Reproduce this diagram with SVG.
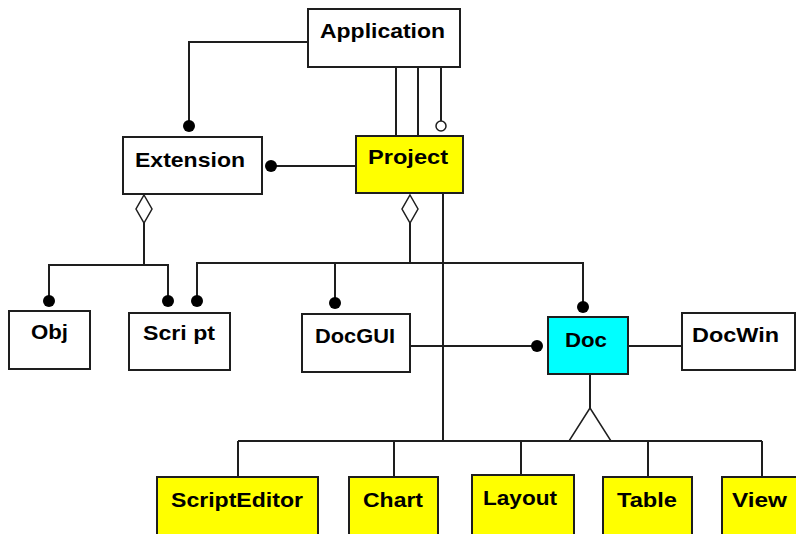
<svg xmlns="http://www.w3.org/2000/svg" width="796" height="534" viewBox="0 0 796 534">
  <style>
    .box { stroke: #1e1e1e; stroke-width: 2; }
    .plain { fill: #ffffff; }
    .yellow { fill: #ffff00; }
    .cyan { fill: #00ffff; }
    .lbl { font-family: "Liberation Sans", Arial, sans-serif; font-weight: bold; font-size: 21px; fill: #000000; }
    .wire { fill: none; stroke: #1e1e1e; stroke-width: 2; }
    .dot { fill: #000000; }
    .hollow { fill: #ffffff; stroke: #1e1e1e; stroke-width: 1.5; }
  </style>

  <!-- connectors -->
  <g id="connectors">
    <!-- Application to Extension -->
    <path class="wire" d="M308,42 H189 V122"/>
    <circle class="dot" cx="189" cy="126" r="6"/>
    <!-- Application to Project -->
    <path class="wire" d="M396,67 V136 M418,67 V136 M441,67 V121"/>
    <circle class="hollow" cx="441" cy="126" r="5"/>
    <!-- Project to Extension -->
    <path class="wire" d="M356,166 H276"/>
    <circle class="dot" cx="271" cy="166" r="6"/>
    <!-- Extension aggregation -->
    <polygon class="hollow" points="144,195 152,209 144,223 136,209"/>
    <path class="wire" d="M144,223 V265 M49,297 V265 H168 V297"/>
    <circle class="dot" cx="49" cy="301" r="6"/>
    <circle class="dot" cx="168" cy="301" r="6"/>
    <!-- Project aggregation -->
    <polygon class="hollow" points="410,195 418,209 410,223 402,209"/>
    <path class="wire" d="M410,223 V263 M197,297 V263 H583 V303 M335,263 V299"/>
    <circle class="dot" cx="197" cy="301" r="6"/>
    <circle class="dot" cx="335" cy="303" r="6"/>
    <circle class="dot" cx="583" cy="307" r="6"/>
    <!-- Project trunk down to the editors -->
    <path class="wire" d="M443,193 V441"/>
    <!-- DocGUI to Doc -->
    <path class="wire" d="M410,346 H532"/>
    <circle class="dot" cx="537" cy="346" r="6"/>
    <!-- Doc to DocWin -->
    <path class="wire" d="M628,346 H682"/>
    <!-- Doc inheritance -->
    <path class="wire" d="M590,374 V408"/>
    <polygon class="hollow" points="590,408 611,441 569,441"/>
    <!-- bottom bus -->
    <path class="wire" d="M238,441 H762 M238,441 V477 M394,441 V477 M521,441 V475 M648,441 V477 M762,441 V477"/>
  </g>

  <!-- nodes -->
  <g id="application">
    <rect class="box plain" x="308" y="9" width="152" height="58"/>
    <text class="lbl" x="320" y="38" textLength="125" lengthAdjust="spacingAndGlyphs">Application</text>
  </g>
  <g id="extension">
    <rect class="box plain" x="123" y="137" width="139" height="57"/>
    <text class="lbl" x="135" y="167" textLength="110" lengthAdjust="spacingAndGlyphs">Extension</text>
  </g>
  <g id="project">
    <rect class="box yellow" x="356" y="136" width="107" height="57"/>
    <text class="lbl" x="368" y="164" textLength="80" lengthAdjust="spacingAndGlyphs">Project</text>
  </g>
  <g id="obj">
    <rect class="box plain" x="9" y="311" width="81" height="58"/>
    <text class="lbl" x="31" y="339" textLength="37" lengthAdjust="spacingAndGlyphs">Obj</text>
  </g>
  <g id="script">
    <rect class="box plain" x="129" y="313" width="101" height="57"/>
    <text class="lbl" x="143" y="340" textLength="72" lengthAdjust="spacingAndGlyphs">Scri pt</text>
  </g>
  <g id="docgui">
    <rect class="box plain" x="302" y="314" width="108" height="58"/>
    <text class="lbl" x="315" y="343" textLength="80" lengthAdjust="spacingAndGlyphs">DocGUI</text>
  </g>
  <g id="doc">
    <rect class="box cyan" x="548" y="317" width="80" height="57"/>
    <text class="lbl" x="565" y="347" textLength="42" lengthAdjust="spacingAndGlyphs">Doc</text>
  </g>
  <g id="docwin">
    <rect class="box plain" x="682" y="313" width="113" height="57"/>
    <text class="lbl" x="692" y="342" textLength="87" lengthAdjust="spacingAndGlyphs">DocWin</text>
  </g>
  <g id="scripteditor">
    <rect class="box yellow" x="157" y="477" width="161" height="64"/>
    <text class="lbl" x="171" y="507" textLength="132" lengthAdjust="spacingAndGlyphs">ScriptEditor</text>
  </g>
  <g id="chart">
    <rect class="box yellow" x="349" y="477" width="89" height="64"/>
    <text class="lbl" x="363" y="507" textLength="60" lengthAdjust="spacingAndGlyphs">Chart</text>
  </g>
  <g id="layout">
    <rect class="box yellow" x="472" y="475" width="102" height="66"/>
    <text class="lbl" x="483" y="505" textLength="74" lengthAdjust="spacingAndGlyphs">Layout</text>
  </g>
  <g id="table">
    <rect class="box yellow" x="603" y="477" width="89" height="64"/>
    <text class="lbl" x="617" y="507" textLength="60" lengthAdjust="spacingAndGlyphs">Table</text>
  </g>
  <g id="view">
    <rect class="box yellow" x="722" y="477" width="80" height="64"/>
    <text class="lbl" x="732" y="507" textLength="55" lengthAdjust="spacingAndGlyphs">View</text>
  </g>
</svg>
